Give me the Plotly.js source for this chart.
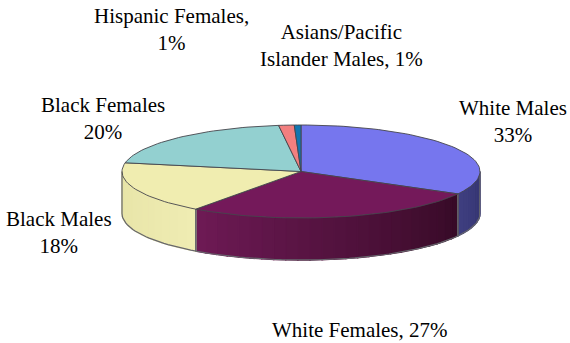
<!DOCTYPE html>
<html>
<head>
<meta charset="utf-8">
<script src="https://cdn.plot.ly/plotly-3.0.1.min.js"></script>
<style>html,body{margin:0;padding:0;background:#fff}#c{width:570px;height:343px}</style>
</head>
<body>
<div id="c"></div>
<script>
var categories = ["White Males","White Females","Black Males","Black Females","Hispanic Females","Asians/Pacific Islander Males"];
var shares = [33, 27, 18, 20, 1.4, 0.6];
var topColors = ["#7676ee","#74195a","#f0edb0","#93d0d0","#f27f7f","#1276b0"];
var sideStart = ["#33336f","#360a26","#efecb2","#7f9a9a","#a05050","#0a4a70"];
var sideEnd = ["#3f3f80","#6e1a55","#e6e3a6","#7f9a9a","#a05050","#0a4a70"];
var labelTexts = ["Hispanic Females,<br>1%","Asians/Pacific<br>Islander Males, 1%","White Males<br>33%","Black Females<br>20%","Black Males<br>18%","White Females, 27%"];
var labelX = [171.5,341.5,512.5,103,59,360];
var labelY = [29,45,121,118,232,330];

var cx=301, cy=171.5, rx=179, ry=46.5, depth=42;
function px(a){return cx+rx*Math.sin(a*Math.PI/180);}
function py(a){return cy-ry*Math.cos(a*Math.PI/180);}
function hex(c){return [1,3,5].map(function(i){return parseInt(c.substr(i,2),16);});}
function mix(a,b,t){var p=hex(a),q=hex(b);return "rgb("+p.map(function(v,i){return Math.round(v+(q[i]-v)*t);}).join(",")+")";}
function arc(a0,a1){var n=Math.max(2,Math.ceil((a1-a0)/2)),xs=[],ys=[];
  for(var i=0;i<=n;i++){var a=a0+(a1-a0)*i/n;xs.push(px(a));ys.push(py(a));}
  return {x:xs,y:ys};}

var traces=[], total=shares.reduce(function(s,v){return s+v;},0), start=0, tops=[], edges=[];
shares.forEach(function(v,k){
  var a0=start, a1=start+v/total*360; start=a1;
  var s0=Math.max(a0,90), s1=Math.min(a1,270);
  if(s1>s0){
    var strips=Math.max(1,Math.ceil((s1-s0)/4));
    for(var i=0;i<strips;i++){
      var b0=s0+(s1-s0)*i/strips, b1=s0+(s1-s0)*(i+1)/strips, r=arc(b0,b1);
      var xs=r.x.concat(r.x.slice().reverse());
      var ys=r.y.concat(r.y.slice().reverse().map(function(y){return y+depth;}));
      xs.push(xs[0]);ys.push(ys[0]);
      var col=mix(sideStart[k],sideEnd[k],(i+0.5)/strips);
      traces.push({type:"scatter",mode:"lines",x:xs,y:ys,fill:"toself",fillcolor:col,
        line:{color:col,width:1.4},hoverinfo:"skip",showlegend:false});
    }
    var edge=arc(s0,s1);
    var ex=[px(s0),px(s0)].concat(edge.x).concat([px(s1),px(s1)]);
    var ey=[py(s0),py(s0)+depth].concat(edge.y.map(function(y){return y+depth;})).concat([py(s1)+depth,py(s1)]);
    edges.push({type:"scatter",mode:"lines",x:ex,y:ey,line:{color:"#66666c",width:1.2},hoverinfo:"skip",showlegend:false});
  }
  var t=arc(a0,a1);
  tops.push({type:"scatter",mode:"lines",name:categories[k],
    x:[cx].concat(t.x).concat([cx]),y:[cy].concat(t.y).concat([cy]),
    fill:"toself",fillcolor:topColors[k],line:{color:"#45454c",width:0.9},hoverinfo:"name",showlegend:false});
});
traces=traces.concat(edges).concat(tops);

var annotations=labelTexts.map(function(s,i){return {text:s,x:labelX[i],y:labelY[i],xref:"x",yref:"y",
  xanchor:"center",yanchor:"middle",showarrow:false,align:"center",
  font:{family:"'Liberation Serif',serif",size:21,color:"#000"}};});

Plotly.newPlot("c",traces,{
  width:570,height:343,margin:{l:0,r:0,t:0,b:0},
  paper_bgcolor:"#fff",plot_bgcolor:"#fff",showlegend:false,
  xaxis:{range:[0,570],visible:false,fixedrange:true},
  yaxis:{range:[343,0],visible:false,fixedrange:true},
  annotations:annotations
},{displayModeBar:false,staticPlot:true});
</script>
</body>
</html>
